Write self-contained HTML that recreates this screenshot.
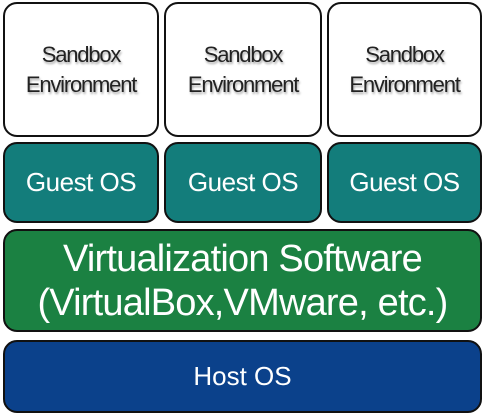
<!DOCTYPE html>
<html><head><style>
body{margin:0;width:486px;height:417px;background:#fff;position:relative;overflow:hidden;font-family:"Liberation Sans",sans-serif}
.b{position:absolute;box-sizing:border-box;border:2px solid #111;border-radius:14px;display:flex;align-items:center;justify-content:center;text-align:center}
.s{background:#fff;color:#222;font-size:22px;line-height:30px;text-shadow:1px 2px 2px rgba(0,0,0,.35);letter-spacing:-1.2px}
.g{background:#137d7b;color:#fff;font-size:26px;letter-spacing:-0.5px}
</style></head><body>
<div class="b s" style="left:3px;top:2px;width:156px;height:135px">Sandbox<br>Environment</div>
<div class="b s" style="left:164px;top:2px;width:158px;height:135px">Sandbox<br>Environment</div>
<div class="b s" style="left:327px;top:2px;width:155px;height:135px">Sandbox<br>Environment</div>
<div class="b g" style="left:3px;top:142px;width:156px;height:81px">Guest OS</div>
<div class="b g" style="left:164px;top:142px;width:158px;height:81px">Guest OS</div>
<div class="b g" style="left:327px;top:142px;width:155px;height:81px">Guest OS</div>
<div class="b" style="left:3px;top:229px;width:479px;height:103px;background:#1b8142;color:#fff;font-size:38px;line-height:44px;letter-spacing:-0.8px">Virtualization Software<br>(VirtualBox,VMware, etc.)</div>
<div class="b" style="left:3px;top:340px;width:479px;height:73px;background:#0b418b;color:#fff;font-size:26px">Host OS</div>
</body></html>
